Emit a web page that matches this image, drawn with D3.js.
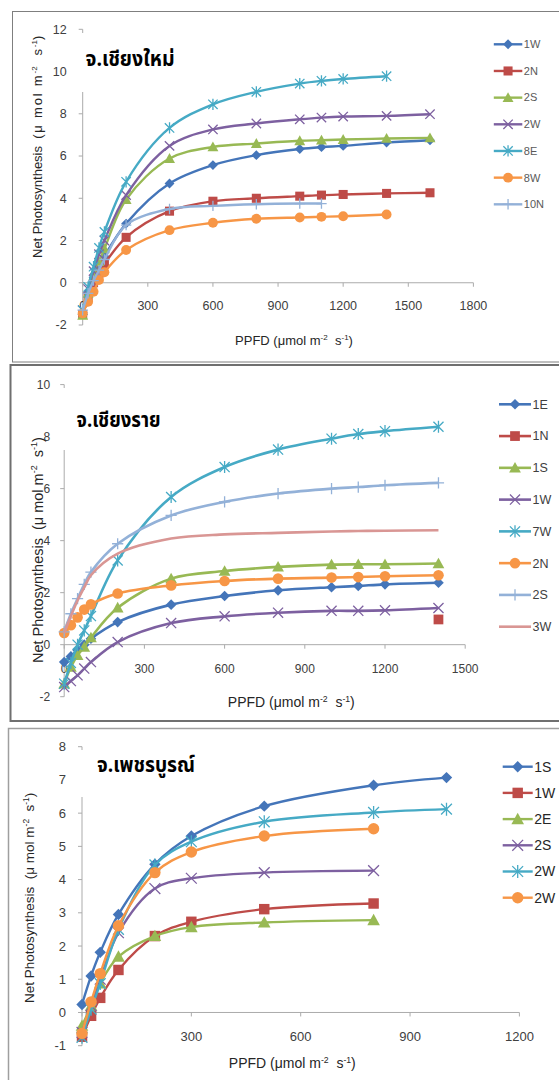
<!DOCTYPE html>
<html><head><meta charset="utf-8">
<script src="https://cdn.jsdelivr.net/npm/d3@7"></script>
<style>body{margin:0;background:#fff} svg{display:block}</style>
</head><body>
<svg id="c" width="559" height="1080"></svg>
<script>
// ---------- Panel 1: Chiang Mai ----------
const cmTitle = "จ.เชียงใหม่";
const cmX = [0,25,50,75,100,200,400,600,800,1000,1100,1200,1400,1600];
const cmNames = ["1W","2N","2S","2W","8E","8W","10N"];
const cm1W  = [-1.4,-0.45,0.25,0.75,1.25,2.8,4.7,5.57,6.04,6.33,6.42,6.48,6.64,6.75];
const cm2N  = [-1.5,-0.65,0.0,0.45,0.88,2.15,3.39,3.86,4.0,4.1,4.15,4.18,4.23,4.26];
const cm2S  = [-1.55,-0.5,0.3,1.0,1.6,3.94,5.88,6.43,6.59,6.72,6.75,6.78,6.83,6.86];
const cm2W  = [-1.3,-0.3,0.55,1.35,2.0,4.15,6.48,7.26,7.54,7.74,7.82,7.87,7.9,7.98];
const cm8E  = [-1.3,-0.2,0.76,1.65,2.41,4.78,7.33,8.45,9.04,9.43,9.56,9.65,9.78,null];
const cm8W  = [-1.45,-0.9,-0.43,0.13,0.5,1.55,2.49,2.84,3.03,3.09,3.12,3.15,3.23,null];
const cm10N = [-1.3,-0.5,0.1,0.6,1.1,2.73,3.49,3.64,3.72,3.75,3.75,null,null,null];
const cmXTicks = [0,300,600,900,1200,1500,1800];
const cmYTicks = [-2,0,2,4,6,8,10,12];

// ---------- Panel 2: Chiang Rai ----------
const crTitle = "จ.เชียงราย";
const crX = [0,25,50,75,100,200,400,600,800,1000,1100,1200,1400];
const crNames = ["1E","1N","1S","1W","7W","2N","2S","3W"];
const cr1E = [-0.67,-0.45,-0.2,0.0,0.23,0.87,1.54,1.87,2.09,2.21,2.26,2.32,2.38];
const cr1N = [null,null,null,null,null,null,null,null,null,null,null,null,0.97];
const cr1S = [-1.5,-0.86,-0.41,-0.09,0.27,1.42,2.54,2.83,2.99,3.08,3.09,3.09,3.12];
const cr1W = [-1.63,-1.4,-1.18,-0.92,-0.67,0.1,0.83,1.09,1.23,1.3,1.3,1.32,1.41];
const cr7W = [-1.5,-0.7,0.0,0.55,1.1,3.24,5.68,6.83,7.5,7.92,8.1,8.21,8.38];
const cr2N = [0.45,0.75,1.05,1.35,1.55,1.97,2.28,2.45,2.54,2.58,2.6,2.63,2.67];
const cr2S = [0.49,1.19,1.77,2.32,2.79,3.88,4.97,5.49,5.81,6.0,6.06,6.13,6.22];
const cr3W = [0.45,1.1,1.7,2.2,2.67,3.5,4.08,4.24,4.3,4.35,4.37,4.38,4.4];
const crXTicks = [0,300,600,900,1200,1500];
const crYTicks = [-2,0,2,4,6,8,10];

// ---------- Panel 3: Phetchabun ----------
const pbTitle = "จ.เพชรบูรณ์";
const pbX = [0,25,50,100,200,300,500,800,1000];
const pbNames = ["1S","1W","2E","2S","2W","2W"];
const pb1S  = [0.24,1.1,1.81,2.95,4.46,5.31,6.21,6.84,7.07];
const pb1W  = [-0.73,-0.1,0.44,1.28,2.3,2.73,3.11,3.28,null];
const pb2E  = [-0.4,0.2,0.87,1.68,2.3,2.57,2.71,2.78,null];
const pb2S  = [-0.6,0.2,1.0,2.4,3.73,4.04,4.21,4.27,null];
const pb2Wa = [-0.75,0.1,0.87,2.5,4.44,5.14,5.74,6.02,6.12];
const pb2Wb = [-0.63,0.32,1.17,2.61,4.21,4.83,5.31,5.53,null];
const pbXTicks = [0,300,600,900,1200];
const pbYTicks = [-1,0,1,2,3,4,5,6,7,8];

// ---------- drawing ----------
const C = {blue:"#4475B9", red:"#BE4B48", green:"#98B954", purple:"#7D60A0",
           aqua:"#46AAC5", orange:"#F79646", lblue:"#93B1D8", pink:"#D99694"};
const svg = d3.select("#c");
const FONT = "'Liberation Sans', Arial, sans-serif";
const TFONT = "'Noto Sans Thai','Loma','Garuda','Tlwg Typo','Noto Sans',sans-serif";

function drawMarker(g, type, x, y, r, color) {
  if (type === "diamond") {
    const s = r * 0.95;
    g.append("path").attr("d", `M${x},${y-s}L${x+s},${y}L${x},${y+s}L${x-s},${y}Z`).attr("fill", color);
  } else if (type === "square") {
    const s = r * 0.87;
    g.append("rect").attr("x", x-s).attr("y", y-s).attr("width", 2*s).attr("height", 2*s).attr("fill", color);
  } else if (type === "triangle") {
    const s = r * 1.05;
    g.append("path").attr("d", `M${x},${y-s}L${x+s},${y+s*0.8}L${x-s},${y+s*0.8}Z`).attr("fill", color);
  } else if (type === "circle") {
    g.append("circle").attr("cx", x).attr("cy", y).attr("r", r*0.95).attr("fill", color);
  } else if (type === "x" || type === "star") {
    const s = r * 0.9;
    g.append("path").attr("d", `M${x-s},${y-s}L${x+s},${y+s}M${x-s},${y+s}L${x+s},${y-s}` + (type==="star" ? `M${x},${y-s*1.2}L${x},${y+s*1.2}` : ""))
      .attr("stroke", color).attr("stroke-width", 1.3).attr("fill", "none");
  } else if (type === "plus") {
    const s = r * 1.0;
    g.append("path").attr("d", `M${x},${y-s}L${x},${y+s}M${x-s},${y}L${x+s},${y}`)
      .attr("stroke", color).attr("stroke-width", 1.3).attr("fill", "none");
  }
}

function unitText(t, prefix, mu, size, ls) {
  t.append("tspan").text(prefix);
  t.append("tspan").attr("letter-spacing", ls).text("(" + mu + "mol m");
  t.append("tspan").attr("font-size", size*0.62).attr("dy", -size*0.38).text("-2");
  t.append("tspan").attr("dy", size*0.38).attr("letter-spacing", ls).text("  s");
  t.append("tspan").attr("font-size", size*0.62).attr("dy", -size*0.38).text("-1");
  t.append("tspan").attr("dy", size*0.38).text(")");
}

function drawPanel(p) {
  const g = svg.append("g");
  g.append("rect").attr("x", p.frame[0]).attr("y", p.frame[1]).attr("width", 700).attr("height", p.frame[2] - p.frame[1])
    .attr("fill", "none").attr("stroke", p.frameColor).attr("stroke-width", p.frameW);
  const x = d3.scaleLinear().domain([0, p.xTicks[p.xTicks.length-1]]).range([p.x0, p.x1]);
  const y = d3.scaleLinear().domain([p.yTicks[0], p.yTicks[p.yTicks.length-1]]).range([p.yBot, p.yTop]);
  const axisC = "#ABABAB";
  g.append("line").attr("x1", p.x0).attr("x2", p.x0).attr("y1", y.range()[1]).attr("y2", y.range()[0]).attr("stroke", axisC).attr("stroke-width", 1);
  p.yTicks.forEach(v => {
    g.append("line").attr("x1", p.x0-4).attr("x2", p.x0).attr("y1", y(v)).attr("y2", y(v)).attr("stroke", axisC);
    g.append("text").attr("x", p.x0 - p.yLabOff).attr("y", y(v)).attr("dy", "0.35em").attr("text-anchor", "end")
      .attr("font-family", FONT).attr("font-size", p.tickSize).attr("fill", "#404040").text(v);
  });
  g.append("line").attr("x1", p.x0).attr("x2", p.x1).attr("y1", y(0)).attr("y2", y(0)).attr("stroke", axisC);
  p.xTicks.forEach(v => {
    g.append("line").attr("x1", x(v)).attr("x2", x(v)).attr("y1", y(0)).attr("y2", y(0)+4).attr("stroke", axisC);
  });
  g.append("rect").attr("x", p.box[0]).attr("y", p.box[1]).attr("width", p.box[2]-p.box[0]).attr("height", p.box[3]-p.box[1]).attr("fill", "#fff");
  p.xTicks.forEach(v => {
    g.append("text").attr("x", x(v)).attr("y", y(0) + p.xLabOff).attr("text-anchor", "middle")
      .attr("font-family", FONT).attr("font-size", p.tickSize).attr("fill", "#404040").text(v);
  });
  const line = d3.line().x(d => x(d[0])).y(d => y(d[1])).curve(d3.curveCatmullRom.alpha(0.5));
  p.series.forEach(s => {
    const ok = p.xs.map((xv, j) => [xv, s.vals[j]]).filter(d => d[1] !== null);
    if (ok.length > 1) {
      g.append("path").attr("d", line(ok)).attr("fill", "none").attr("stroke", s.color).attr("stroke-width", p.lw);
    }
    if (s.marker) ok.forEach(d => drawMarker(g, s.marker, x(d[0]), y(d[1]), p.mr, s.color));
  });
  g.append("text").attr("x", p.title[0]).attr("y", p.title[1]).attr("font-family", TFONT).attr("font-weight", "bold")
    .attr("font-size", p.title[2]).attr("fill", "#000")
    .attr("textLength", p.title[3]).attr("lengthAdjust", "spacingAndGlyphs").text(p.titleText);
  const yt = g.append("text").attr("transform", `translate(${p.yTitle[0]},${p.yTitle[1]}) rotate(-90)`)
    .style("white-space", "pre")
    .attr("text-anchor", "start").attr("font-family", FONT).attr("font-size", p.yTitle[2]).attr("fill", "#262626");
  unitText(yt, "Net Photosynthesis  ", "μ ", p.yTitle[2], p.yTitle[3]);
  const xt = g.append("text").attr("x", p.xTitle[0]).attr("y", p.xTitle[1]).style("white-space", "pre")
    .attr("text-anchor", "middle").attr("font-family", FONT).attr("font-size", p.xTitle[2]).attr("fill", "#262626");
  unitText(xt, "PPFD ", "μ", p.xTitle[2], 0);
  p.series.forEach((s, i) => {
    const ly = p.leg.y0 + i * p.leg.dy;
    g.append("line").attr("x1", p.leg.x0).attr("x2", p.leg.x1).attr("y1", ly).attr("y2", ly).attr("stroke", s.color).attr("stroke-width", p.lw);
    if (s.marker) drawMarker(g, s.marker, (p.leg.x0 + p.leg.x1)/2, ly, p.mr, s.color);
    g.append("text").attr("x", p.leg.x1 + 1.5).attr("y", ly).attr("dy", "0.35em").attr("font-family", FONT)
      .attr("font-size", p.leg.size).attr("fill", p.leg.color).text(s.name);
  });
}

const styles1 = [[C.blue,"diamond"],[C.red,"square"],[C.green,"triangle"],[C.purple,"x"],[C.aqua,"star"],[C.orange,"circle"],[C.lblue,"plus"]];
const styles2 = [[C.blue,"diamond"],[C.red,"square"],[C.green,"triangle"],[C.purple,"x"],[C.aqua,"star"],[C.orange,"circle"],[C.lblue,"plus"],[C.pink,null]];
const styles3 = [[C.blue,"diamond"],[C.red,"square"],[C.green,"triangle"],[C.purple,"x"],[C.aqua,"star"],[C.orange,"circle"]];

drawPanel({
  frame:[12.5, 11.5, 362], frameColor:"#7F7F7F", frameW:1,
  x0:82.7, x1:473.4, yTop:29.3, yBot:325, xTicks:cmXTicks, yTicks:cmYTicks,
  yLabOff:16, xLabOff:27, tickSize:12.5,
  box:[74, 33, 185, 92],
  xs:cmX, lw:2.4, mr:5.2,
  series:[cm1W,cm2N,cm2S,cm2W,cm8E,cm8W,cm10N].map((v,i)=>({vals:v, name:cmNames[i], color:styles1[i][0], marker:styles1[i][1]})),
  title:[85.6, 66, 21, 89], titleText:cmTitle,
  yTitle:[41.5, 258, 13, 1.8], xTitle:[294, 345, 13],
  leg:{x0:493.8, x1:522.3, y0:44.3, dy:26.67, size:11, color:"#595959"}
});
drawPanel({
  frame:[10.5, 365, 721], frameColor:"#6F6F6F", frameW:2,
  x0:64.2, x1:465.2, yTop:384.6, yBot:696.7, xTicks:crXTicks, yTicks:crYTicks,
  yLabOff:14, xLabOff:28, tickSize:12,
  box:[56, 388, 170, 450],
  xs:crX, lw:2.6, mr:5.6,
  series:[cr1E,cr1N,cr1S,cr1W,cr7W,cr2N,cr2S,cr3W].map((v,i)=>({vals:v, name:crNames[i], color:styles2[i][0], marker:styles2[i][1]})),
  title:[76.6, 427, 21, 84], titleText:crTitle,
  yTitle:[42.5, 663, 14.5, 0], xTitle:[291.3, 707, 14],
  leg:{x0:499, x1:531, y0:404.3, dy:31.77, size:12.5, color:"#404040"}
});
drawPanel({
  frame:[8.5, 728.5, 1100], frameColor:"#9F9F9F", frameW:1.5,
  x0:82, x1:519.4, yTop:746.7, yBot:1045.7, xTicks:pbXTicks, yTicks:pbYTicks,
  yLabOff:16, xLabOff:29, tickSize:13,
  box:[72, 750, 205, 797],
  xs:pbX, lw:2.4, mr:6,
  series:[pb1S,pb1W,pb2E,pb2S,pb2Wa,pb2Wb].map((v,i)=>({vals:v, name:pbNames[i], color:styles3[i][0], marker:styles3[i][1]})),
  title:[97, 772, 21, 98], titleText:pbTitle,
  yTitle:[34, 1003, 13.5, 0], xTitle:[292.3, 1068, 14],
  leg:{x0:502.7, x1:532.7, y0:766.7, dy:26.2, size:14, color:"#262626"}
});
</script>
</body></html>
